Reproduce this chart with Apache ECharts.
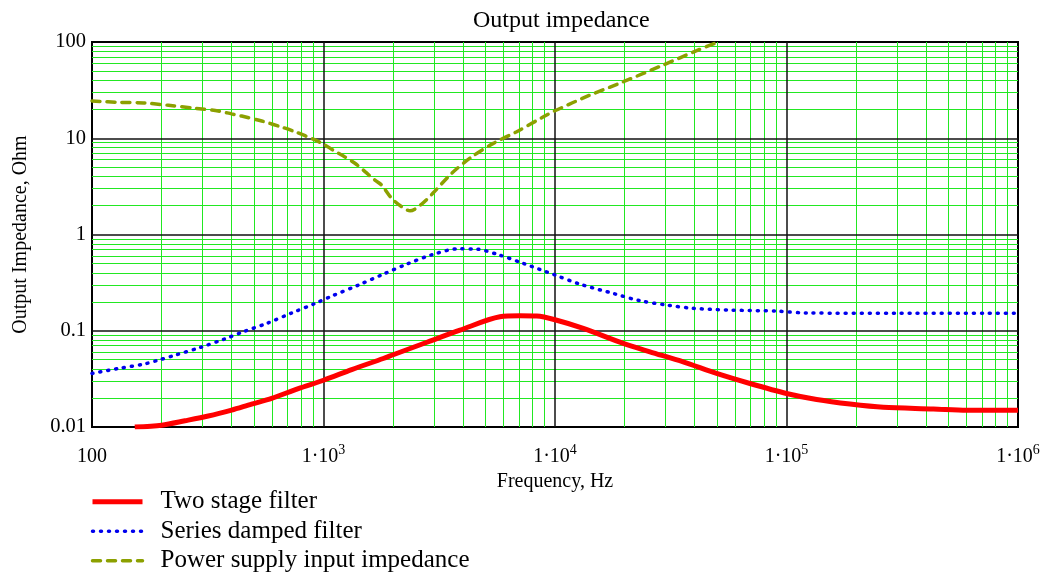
<!DOCTYPE html>
<html>
<head>
<meta charset="utf-8">
<script src="https://cdn.jsdelivr.net/npm/echarts@6/dist/echarts.min.js"></script>
<style>
  html, body { margin: 0; padding: 0; background: #fff; }
  #main { width: 1043px; height: 581px; }
</style>
</head>
<body>
<div id="main"></div>
<script>
// values (frequency in Hz, impedance in Ohm)
var twoStageFreq = [153, 200, 252, 318, 401, 489, 597, 778, 1000, 1324, 1812, 2000, 2800, 3890, 5780, 7060, 8340, 10000, 13250, 19720, 25700, 35800, 49900, 69500, 100000, 135000, 188000, 262000, 431000, 600000, 1000000];
var twoStageZ = [0.01, 0.01045, 0.0116, 0.013, 0.015, 0.0173, 0.0198, 0.0251, 0.0306, 0.0395, 0.0515, 0.0563, 0.076, 0.1014, 0.1396, 0.143, 0.142, 0.13, 0.1057, 0.0738, 0.0604, 0.0475, 0.036, 0.0283, 0.0223, 0.0193, 0.0173, 0.016, 0.0154, 0.0149, 0.0149];

var seriesDampedFreq = [100, 130, 167, 193, 228, 293, 375, 450, 568, 729, 919, 1085, 1414, 1813, 2288, 2934, 3822, 4589, 5601, 7297, 10000, 12824, 17862, 23285, 30380, 39540, 57000, 90700, 122300, 300000, 1000000];
var seriesDampedZ = [0.036, 0.0405, 0.045, 0.0494, 0.0557, 0.067, 0.0824, 0.0975, 0.119, 0.153, 0.192, 0.229, 0.298, 0.387, 0.492, 0.615, 0.71, 0.705, 0.625, 0.501, 0.379, 0.305, 0.244, 0.205, 0.185, 0.171, 0.164, 0.16, 0.153, 0.152, 0.152];

var supplyFreq = [100, 132, 167, 214, 279, 351, 401, 443, 541, 670, 753, 919, 1015, 1102, 1238, 1367, 1511, 1668, 1783, 1971, 2178, 2365, 2656, 2980, 3578, 4368, 5415, 6835, 8912, 10000, 14170, 19720, 29360, 40930, 50700];
var supplyZ = [24.4, 23.6, 23.3, 22, 20.5, 19.2, 17.9, 17.0, 15.1, 12.9, 11.7, 9.6, 8.5, 7.5, 6.4, 5.5, 4.5, 3.67, 3.26, 2.37, 1.94, 1.76, 2.07, 2.71, 4.32, 6.4, 8.85, 11.7, 16.7, 19.3, 28.1, 38.6, 57.7, 81.3, 100];

var xMinorTicks = [200, 300, 400, 500, 600, 700, 800, 900, 2000, 3000, 4000, 5000, 6000, 7000, 8000, 9000, 20000, 30000, 40000, 50000, 60000, 70000, 80000, 90000, 200000, 300000, 400000, 500000, 600000, 700000, 800000, 900000];
var yMinorTicks = [0.02, 0.03, 0.04, 0.05, 0.06, 0.07, 0.08, 0.09, 0.2, 0.3, 0.4, 0.5, 0.6, 0.7, 0.8, 0.9, 2, 3, 4, 5, 6, 7, 8, 9, 20, 30, 40, 50, 60, 70, 80, 90];
var xMajorTicks = [1000, 10000, 100000];
var yMajorTicks = [0.1, 1, 10];

function pairs(xs, ys) {
  return xs.map(function (x, i) { return [x, ys[i]]; });
}

function gridLines(xs, ys) {
  var d = [];
  xs.forEach(function (v) { d.push({ xAxis: v }); });
  ys.forEach(function (v) { d.push({ yAxis: v }); });
  return d;
}

var font = "'Liberation Serif', 'DejaVu Serif', serif";

var myChart = echarts.init(document.getElementById("main"));
var option = {
  animation: false,
  textStyle: { fontFamily: font, color: "#000" },
  title: {
    text: "Output impedance",
    left: 473,
    top: 9,
    padding: 0,
    textStyle: { fontFamily: font, fontSize: 24, fontWeight: "normal", color: "#000" }
  },
  legend: {
    orient: "vertical",
    left: 90,
    top: 487,
    padding: 0,
    itemWidth: 50,
    itemHeight: 14,
    itemGap: 0,
    itemStyle: { opacity: 0 },
    lineStyle: { width: "inherit" },
    data: ["Two stage filter", "Series damped filter", "Power supply input impedance"],
    textStyle: { fontFamily: font, fontSize: 25, color: "#000", lineHeight: 29.5, padding: [0, 0, 0, 13] }
  },
  grid: {
    left: 92,
    right: 25,
    top: 42,
    bottom: 154,
    show: true,
    borderColor: "#000",
    borderWidth: 2,
    backgroundColor: "transparent"
  },
  xAxis: {
    type: "log",
    logBase: 10,
    min: 100,
    max: 1000000,
    name: "Frequency, Hz",
    nameLocation: "middle",
    nameGap: 31,
    nameTextStyle: { fontFamily: font, fontSize: 20, color: "#000" },
    axisLine: { show: false },
    axisTick: { show: false },
    minorTick: { show: false },
    splitLine: { show: false },
    minorSplitLine: { show: false },
    axisLabel: {
      margin: 16,
      color: "#000",
      formatter: function (v) {
        var e = Math.round(Math.log10(v));
        if (e <= 2) return "{b|" + v + "}";
        return "{b|1\u00b710}{s|" + e + "}";
      },
      rich: {
        b: { fontFamily: font, fontSize: 20, color: "#000", lineHeight: 24, verticalAlign: "bottom" },
        s: { fontFamily: font, fontSize: 14, color: "#000", lineHeight: 24, verticalAlign: "top", padding: [0, 0, 10, 0] }
      }
    }
  },
  yAxis: {
    type: "log",
    logBase: 10,
    min: 0.01,
    max: 100,
    name: "Output Impedance, Ohm",
    nameLocation: "middle",
    nameGap: 61,
    nameTextStyle: { fontFamily: font, fontSize: 20, color: "#000" },
    axisLine: { show: false },
    axisTick: { show: false },
    minorTick: { show: false },
    splitLine: { show: false },
    minorSplitLine: { show: false },
    axisLabel: {
      margin: 6,
      fontFamily: font,
      fontSize: 20.5,
      color: "#000",
      padding: [12, 0, 0, 0],
      formatter: function (v) {
        return String(+v.toPrecision(6));
      }
    }
  },
  series: [
    {
      name: "minorGrid",
      type: "line",
      data: [],
      silent: true,
      z: 1,
      markLine: {
        silent: true,
        symbol: "none",
        animation: false,
        label: { show: false },
        lineStyle: { color: "#22e822", width: 1, type: "solid", opacity: 1 },
        emphasis: { disabled: true },
        data: gridLines(xMinorTicks, yMinorTicks)
      }
    },
    {
      name: "majorGrid",
      type: "line",
      data: [],
      silent: true,
      z: 2,
      markLine: {
        silent: true,
        symbol: "none",
        animation: false,
        label: { show: false },
        lineStyle: { color: "#111", width: 1.5, type: "solid", opacity: 1 },
        emphasis: { disabled: true },
        data: gridLines(xMajorTicks, yMajorTicks)
      }
    },
    {
      name: "Two stage filter",
      type: "line",
      data: pairs(twoStageFreq, twoStageZ),
      showSymbol: false,
      symbol: "none",
      smooth: 0.3,
      clip: true,
      z: 5,
      itemStyle: { color: "#ff0000" },
      lineStyle: { color: "#ff0000", width: 5, type: "solid" }
    },
    {
      name: "Series damped filter",
      type: "line",
      data: pairs(seriesDampedFreq, seriesDampedZ),
      showSymbol: false,
      symbol: "none",
      smooth: 0.3,
      clip: true,
      z: 5,
      itemStyle: { color: "#0000ee" },
      lineStyle: { color: "#0000ee", width: 3.5, type: [1, 7], cap: "round" }
    },
    {
      name: "Power supply input impedance",
      type: "line",
      data: pairs(supplyFreq, supplyZ),
      showSymbol: false,
      symbol: "none",
      smooth: 0.3,
      clip: true,
      z: 5,
      itemStyle: { color: "#8ca000" },
      lineStyle: { color: "#8ca000", width: 3.5, type: [8, 7], cap: "round" }
    }
  ]
};
myChart.setOption(option);
</script>
</body>
</html>
